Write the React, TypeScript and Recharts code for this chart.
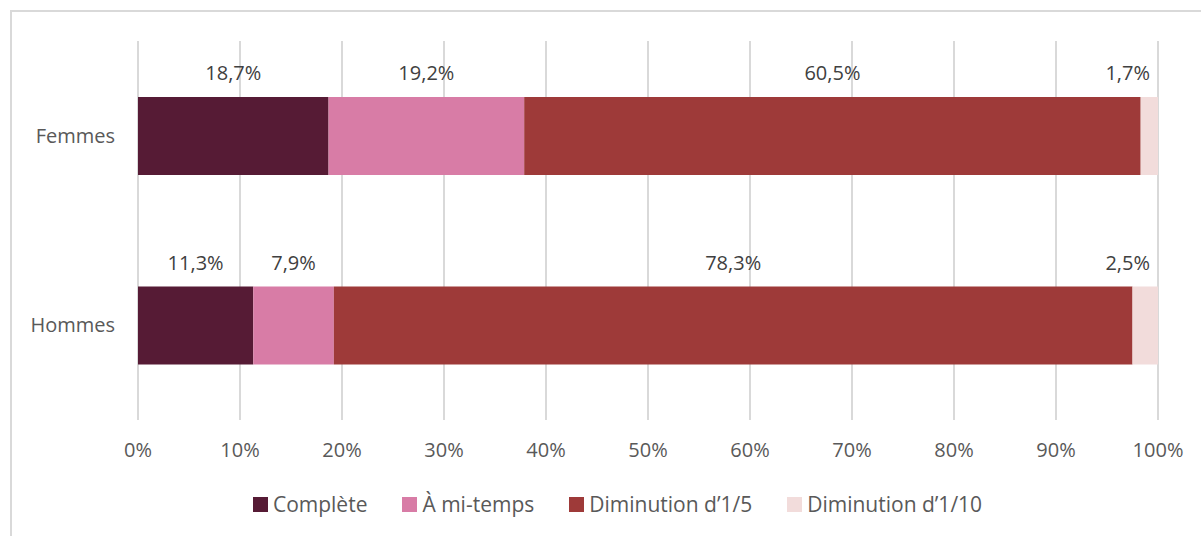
import { BarChart, Bar, XAxis, YAxis, CartesianGrid, LabelList } from "recharts";

const CATEGORIES = ["Femmes", "Hommes"];
const SERIES = ["Complète", "À mi-temps", "Diminution d’1/5", "Diminution d’1/10"];
const COMPLETE = [18.7, 11.3];
const MI_TEMPS = [19.2, 7.9];
const DIM_5 = [60.5, 78.3];
const DIM_10 = [1.7, 2.5];
const X_TICKS = [0, 0.1, 0.2, 0.3, 0.4, 0.5, 0.6, 0.7, 0.8, 0.9, 1];

const COLORS = ["#561b35", "#d87ca6", "#9e3a39", "#f2dcdb"];
const KEYS = ["s0", "s1", "s2", "s3"];
const FONT = "'Open Sans', sans-serif";

const chartData = CATEGORIES.map((name, i) => ({
  name,
  s0: COMPLETE[i],
  s1: MI_TEMPS[i],
  s2: DIM_5[i],
  s3: DIM_10[i],
}));

const fmt = (v: number) => `${v.toFixed(1).replace(".", ",")}%`;

function makeLabel(last: boolean) {
  return (props: any) => {
    const { x, y, width, value } = props;
    const tx = last ? x + width - 8 : x + width / 2;
    return (
      <text
        x={tx}
        y={y - 22}
        textAnchor={last ? "end" : "middle"}
        dominantBaseline="middle"
        fill="#404040"
        fontSize={20}
        fontFamily={FONT}
      >
        {fmt(value)}
      </text>
    );
  };
}

export default function App() {
  return (
    <div style={{ position: "absolute", left: 0, top: 0, width: 1201, height: 536, background: "#fff", overflow: "hidden" }}>
      <div
        style={{
          position: "absolute",
          left: 10,
          top: 10,
          width: 1200,
          height: 540,
          border: "2px solid #d9d9d9",
        }}
      />
      <div style={{ position: "absolute", left: 0, top: 0 }}>
        <BarChart
          width={1201}
          height={536}
          data={chartData}
          layout="vertical"
          stackOffset="expand"
          margin={{ top: 41, right: 43, bottom: 56, left: 0 }}
        >
          <CartesianGrid horizontal={false} stroke="#d9d9d9" strokeWidth={2} />
          <XAxis
            type="number"
            domain={[0, 1]}
            ticks={X_TICKS}
            tickFormatter={(v: number) => `${Math.round(v * 100)}%`}
            axisLine={false}
            tickLine={false}
            tickSize={0}
            tickMargin={23}
            height={60}
            interval={0}
            tick={{ fill: "#595959", fontSize: 20, fontFamily: FONT }}
          />
          <YAxis
            type="category"
            dataKey="name"
            width={138}
            axisLine={false}
            tickLine={false}
            tickSize={0}
            tickMargin={23}
            tick={{ fill: "#595959", fontSize: 20, fontFamily: FONT }}
          />
          {KEYS.map((k, i) => (
            <Bar key={k} dataKey={k} name={SERIES[i]} stackId="a" fill={COLORS[i]} barSize={78} isAnimationActive={false}>
              <LabelList dataKey={k} content={makeLabel(i === KEYS.length - 1)} />
            </Bar>
          ))}
        </BarChart>
      </div>
      <div
        style={{
          position: "absolute",
          left: 0,
          top: 490,
          width: 1201,
          display: "flex",
          justifyContent: "center",
          fontFamily: FONT,
          fontSize: 21,
          color: "#595959",
          paddingLeft: 34,
          boxSizing: "border-box",
        }}
      >
        {SERIES.map((s, i) => (
          <div key={s} style={{ display: "flex", alignItems: "center", marginRight: i < SERIES.length - 1 ? 35 : 0 }}>
            <span style={{ display: "inline-block", width: 15, height: 15, background: COLORS[i], marginRight: 5 }} />
            <span>{s}</span>
          </div>
        ))}
      </div>
    </div>
  );
}
